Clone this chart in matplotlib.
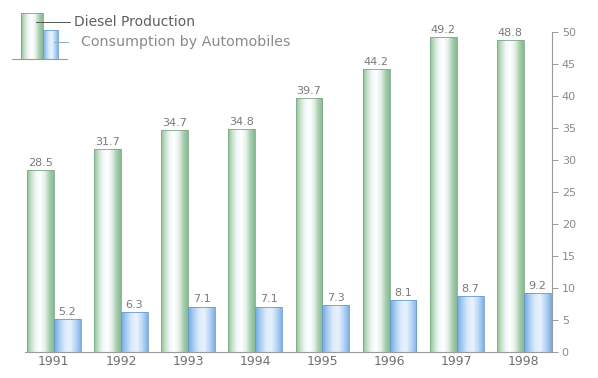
import numpy as np
import matplotlib
matplotlib.use("Agg")
import matplotlib.pyplot as plt
from matplotlib.colors import LinearSegmentedColormap

years = ["1991", "1992", "1993", "1994", "1995", "1996", "1997", "1998"]
production = [28.5, 31.7, 34.7, 34.8, 39.7, 44.2, 49.2, 48.8]
consumption = [5.2, 6.3, 7.1, 7.1, 7.3, 8.1, 8.7, 9.2]
yticks = [0, 5, 10, 15, 20, 25, 30, 35, 40, 45, 50]

TEXT = "#7a7a7a"
AXIS = "#9a9a9a"
plt.rcParams["font.family"] = ["DejaVu Sans"]

green_cm = LinearSegmentedColormap.from_list(
    "cyl_green", ["#8fbf98", "#c9e2cc", "#f4f8fb", "#ffffff", "#e6f0ea", "#a9cfb0", "#86b890"])
blue_cm = LinearSegmentedColormap.from_list(
    "cyl_blue", ["#6ea6e2", "#a9cdf2", "#dbeafa", "#e8f2fc", "#b9d6f5", "#7fb2e8"])

W, H = 598, 378
fig = plt.figure(figsize=(W / 100, H / 100), dpi=100)
ax = fig.add_axes([20 / W, 26 / H, (552 - 20) / W, 320 / H])

x = np.arange(len(years))
bw = 0.4
grad = np.linspace(0, 1, 256).reshape(1, -1)


def cylinder(bars, cmap, edge):
    for b in bars:
        b.set_facecolor("none")
        b.set_edgecolor(edge)
        b.set_linewidth(0.6)
        x0, y0 = b.get_x(), b.get_y()
        im = ax.imshow(grad, cmap=cmap, aspect="auto",
                       extent=(x0, x0 + b.get_width(), y0, y0 + b.get_height()),
                       zorder=1.5, interpolation="bilinear")
        im.set_clip_path(b)


gb = ax.bar(x - bw / 2, production, bw, zorder=2)
bb = ax.bar(x + bw / 2, consumption, bw, zorder=2)
cylinder(gb, green_cm, "#7fa888")
cylinder(bb, blue_cm, "#6a9bd0")

for xi, v in zip(x - bw / 2, production):
    ax.annotate(f"{v:.1f}", (xi, v), xytext=(0, 1.5), textcoords="offset points",
                ha="center", va="bottom", fontsize=8, color=TEXT)
for xi, v in zip(x + bw / 2, consumption):
    ax.annotate(f"{v:.1f}", (xi, v), xytext=(0, 1.5), textcoords="offset points",
                ha="center", va="bottom", fontsize=8, color=TEXT)

ax.set_xlim(-0.504, 7.42)
ax.set_ylim(0, 50)
ax.set_xticks(x)
ax.set_xticklabels(years)
ax.set_yticks(yticks)
ax.yaxis.tick_right()
ax.tick_params(axis="y", direction="out", length=4, width=0.7, color=AXIS,
               labelcolor="#8a8a8a", labelsize=8, pad=3)
ax.tick_params(axis="x", length=0, labelcolor="#6f6f6f", labelsize=9, pad=2)
for s in ("top", "left"):
    ax.spines[s].set_visible(False)
ax.spines["right"].set_color(AXIS)
ax.spines["right"].set_linewidth(0.8)
ax.spines["bottom"].set_color(AXIS)
ax.spines["bottom"].set_linewidth(0.8)
ax.spines["bottom"].set_bounds(-0.43, 7.42)

# legend glyph drawn in figure pixel space
lg = fig.add_axes([0, 0, 1, 1], facecolor="none")
lg.imshow(grad, cmap=green_cm, aspect="auto", extent=(21, 43, 59, 13),
          interpolation="bilinear")
lg.add_patch(plt.Rectangle((21, 13), 22, 46, fill=False, ec="#7fa888", lw=0.6))
lg.imshow(grad, cmap=blue_cm, aspect="auto", extent=(43, 58, 59, 30),
          interpolation="bilinear")
lg.add_patch(plt.Rectangle((43, 30), 15, 29, fill=False, ec="#6a9bd0", lw=0.6))
lg.plot([12, 67], [59, 59], color=AXIS, lw=0.8)
lg.plot([36, 70], [22, 22], color="#555555", lw=0.7)
lg.plot([54, 68], [42, 42], color="#8aa8c8", lw=0.7)
lg.set_xlim(0, W)
lg.set_ylim(H, 0)
lg.axis("off")
lg.text(74, 22, "Diesel Production", fontsize=10, color="#5f5f5f", va="center", ha="left")
lg.text(81, 42, "Consumption by Automobiles", fontsize=10.3, color="#8a8a8a",
        va="center", ha="left")

fig.savefig("out.png", dpi=100)
